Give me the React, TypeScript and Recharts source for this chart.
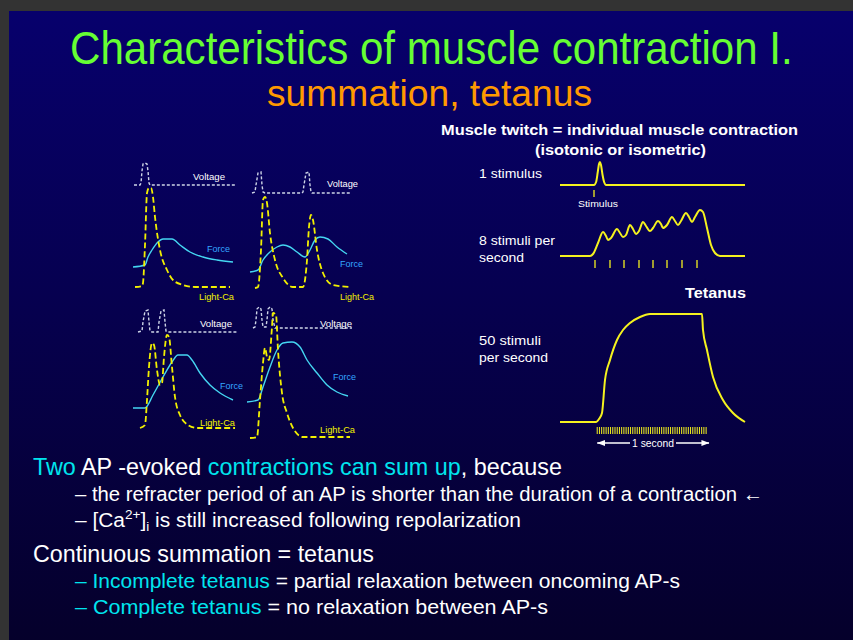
import React from 'react';
import { LineChart, Line, XAxis, YAxis, ReferenceLine, ReferenceDot } from 'recharts';

type Pt = { t: number; v: number };
const P = (arr: number[][]): Pt[] => arr.map(([t, v]) => ({ t, v }));

// ---- Left panels (time in panel units, signal level in panel units, traces offset) ----
const p1Voltage = P([[4,110],[10,110],[11,112],[12,124],[13,131],[15,132],[17,131],[18,124],[19,112],[20,110],[105,110]]);
const p1Force = P([[3,28],[15,30],[18,38],[22,45],[28,53],[33,56],[42,56],[50,50],[60,43],[73,38],[87,35],[103,33]]);
const p1Calcium = P([[5,8],[12,9],[13,12],[15,50],[17,102],[19,107],[21,107],[23,98],[25,78],[30,45],[37,25],[43,15],[53,10],[65,8],[100,8]]);

const p2Voltage = P([[12,102],[15,103],[16,110],[18,122],[21,123],[22,110],[23,103],[25,102],[62,102],[63,103],[64,110],[66,122],[69,123],[70,110],[71,103],[72,102],[110,102]]);
const p2Force = P([[10,23],[18,25],[23,35],[30,43],[37,48],[43,50],[50,48],[57,43],[65,38],[70,45],[75,55],[80,58],[88,56],[97,48],[107,41]]);
const p2Calcium = P([[15,7],[18,8],[21,45],[23,95],[25,98],[27,92],[30,62],[35,35],[43,17],[53,8],[63,8],[67,35],[69,68],[71,80],[73,75],[77,45],[83,22],[93,10],[110,8]]);

const p3Voltage = P([[8,108],[12,109],[13,118],[15,129],[18,130],[19,118],[20,109],[22,108],[28,108],[29,118],[31,129],[34,130],[35,118],[36,109],[38,108],[107,108]]);
const p3Force = P([[3,32],[15,32],[23,45],[33,63],[42,78],[48,85],[57,85],[62,80],[70,67],[80,55],[90,47],[103,40]]);
const p3Calcium = P([[10,12],[15,15],[17,40],[19,73],[22,97],[24,95],[27,70],[30,55],[32,57],[34,83],[37,105],[39,103],[42,73],[45,43],[50,25],[58,15],[67,12],[105,12]]);

const p4Voltage = P([[13,112],[15,113],[16,120],[17,131],[19,133],[21,131],[22,120],[23,113],[26,113],[27,120],[28,131],[30,133],[32,131],[33,120],[35,112],[112,112]]);
const p4Force = P([[7,38],[18,40],[23,53],[30,73],[37,90],[43,97],[52,98],[60,93],[67,80],[77,67],[87,55],[97,48],[108,44]]);
const p4Calcium = P([[10,2],[17,3],[20,40],[23,77],[25,92],[27,83],[29,80],[32,113],[33,127],[36,125],[38,90],[42,47],[47,27],[53,12],[63,3],[110,3]]);

// ---- Right traces (time in ms, force in arbitrary units) ----
const twitchForce = P([[45,0],[351,0],[370,3],[385,13],[396,21],[405,23],[414,20],[428,10],[442,3],[460,0],[1710,0]]);
const twitchStimuli = [351];

const summationForce = P([[45,0],[315,0],[342,2],[387,13],[432,24],[459,20],[477,16],[504,18],[558,27],[585,23],[612,19],[639,21],[675,31],[702,27],[729,22],[756,25],[792,34],[819,30],[855,25],[882,28],[927,35],[954,32],[972,28],[1008,31],[1053,39],[1080,35],[1107,31],[1134,35],[1179,43],[1206,39],[1233,34],[1260,39],[1305,46],[1332,44],[1368,28],[1404,11],[1440,3],[1485,0],[1710,0]]);
const summationStimuli = [360,495,621,756,882,1008,1143,1278];

const tetanusForce = P([[45,0],[369,0],[396,3],[423,9],[450,42],[495,62],[558,82],[612,92],[675,99],[765,105],[855,108],[1323,108],[1332,92],[1368,72],[1422,45],[1512,22],[1602,9],[1710,0]]);
const tetanusStimuli = [380,400,420,440,460,480,500,520,540,560,580,600,620,640,660,680,700,720,740,760,780,800,820,840,860,880,900,920,940,960,980,1000,1020,1040,1060,1080,1100,1120,1140,1160,1180,1200,1220,1240,1260,1280,1300,1320,1340,1360];

const VOLT = '#cdd3e6';
const FORCE = '#45d6f2';
const CA = '#f2f000';
const TRACE = '#f5f21e';
const CYAN = '#00e5ee';
const FONT = "'Liberation Sans Narrow', 'Liberation Sans', Arial, sans-serif";
const SANS = "'Liberation Sans', Arial, sans-serif";

function Panel({ left, top, width, height, tMax, voltage, force, calcium }: any) {
  return (
    <div style={{ position: 'absolute', left, top, width, height }}>
      <LineChart width={width} height={height} margin={{ top: 0, right: 0, bottom: 0, left: 0 }}>
        <XAxis type="number" dataKey="t" domain={[0, tMax]} hide />
        <YAxis type="number" dataKey="v" domain={[0, 140]} hide />
        <Line data={voltage} dataKey="v" type="linear" stroke={VOLT} strokeWidth={1.4} strokeDasharray="3 2" dot={false} isAnimationActive={false} />
        <Line data={force} dataKey="v" type="monotone" stroke={FORCE} strokeWidth={1.4} dot={false} isAnimationActive={false} />
        <Line data={calcium} dataKey="v" type="monotone" stroke={CA} strokeWidth={1.8} strokeDasharray="6 3" dot={false} isAnimationActive={false} />
      </LineChart>
    </div>
  );
}

const arrowLeft = (p: any) => <path d={`M${p.cx},${p.cy} L${p.cx + 8},${p.cy - 3} L${p.cx + 8},${p.cy + 3} Z`} fill="#fff" />;
const arrowRight = (p: any) => <path d={`M${p.cx},${p.cy} L${p.cx - 8},${p.cy - 3} L${p.cx - 8},${p.cy + 3} Z`} fill="#fff" />;

function Trace({ top, height, domain, data, stimuli, tick, arrow }: any) {
  return (
    <div style={{ position: 'absolute', left: 555, top, width: 200, height }}>
      <LineChart width={200} height={height} margin={{ top: 0, right: 0, bottom: 0, left: 0 }}>
        <XAxis type="number" dataKey="t" domain={[0, 1800]} hide />
        <YAxis type="number" dataKey="v" domain={domain} hide />
        {stimuli.map((s: number, i: number) => (
          <ReferenceLine key={i} segment={[{ x: s, y: tick[0] }, { x: s, y: tick[1] }]} stroke={TRACE} strokeWidth={stimuli.length > 20 ? 1 : 1.3} />
        ))}
        {arrow && <ReferenceLine segment={[{ x: 380, y: -21 }, { x: 675, y: -21 }]} stroke="#fff" strokeWidth={1.3} />}
        {arrow && <ReferenceLine segment={[{ x: 1089, y: -21 }, { x: 1386, y: -21 }]} stroke="#fff" strokeWidth={1.3} />}
        {arrow && <ReferenceDot x={378} y={-21} r={3} shape={arrowLeft} />}
        {arrow && <ReferenceDot x={1390} y={-21} r={3} shape={arrowRight} />}
        <Line data={data} dataKey="v" type="monotone" stroke={TRACE} strokeWidth={2} dot={false} isAnimationActive={false} />
      </LineChart>
    </div>
  );
}

function T({ x, y, w, size, fill = '#fff', bold, family = SANS, children }: any) {
  return (
    <text x={x} y={y} fontSize={size} fill={fill} fontFamily={family} fontWeight={bold ? 'bold' : 'normal'}
      textLength={w} lengthAdjust="spacingAndGlyphs">{children}</text>
  );
}

export default function App() {
  return (
    <div style={{ position: 'fixed', left: 0, top: 0, width: 853, height: 640, background: '#333333', overflow: 'hidden' }}>
      <div style={{ position: 'absolute', left: 9, top: 11, width: 844, height: 629, background: 'linear-gradient(180deg, #07006c 0%, #060050 45%, #05002b 100%)' }} />
      <Panel left={130} top={155} width={110} height={140} tMax={110} voltage={p1Voltage} force={p1Force} calcium={p1Calcium} />
      <Panel left={240} top={155} width={120} height={140} tMax={120} voltage={p2Voltage} force={p2Force} calcium={p2Calcium} />
      <Panel left={130} top={300} width={110} height={140} tMax={110} voltage={p3Voltage} force={p3Force} calcium={p3Calcium} />
      <Panel left={240} top={300} width={120} height={140} tMax={120} voltage={p4Voltage} force={p4Force} calcium={p4Calcium} />
      <Trace top={155} height={50} domain={[-20, 30]} data={twitchForce} stimuli={twitchStimuli} tick={[-5, -12]} />
      <Trace top={200} height={75} domain={[-19, 56]} data={summationForce} stimuli={summationStimuli} tick={[-4, -12]} />
      <Trace top={300} height={150} domain={[-28, 122]} data={tetanusForce} stimuli={tetanusStimuli} tick={[-5, -12]} arrow />
      <svg width={853} height={640} style={{ position: 'absolute', left: 0, top: 0, pointerEvents: 'none' }}>
        <g transform="translate(70,64) scale(0.915,1)">
          <text x={0} y={0} fontSize={46} fill="#66ff33" fontFamily={FONT}>Characteristics of muscle contraction I.</text>
        </g>
        <T x={267} y={106} w={325} size={36} fill="#ff9900" family={FONT}>summation, tetanus</T>

        <T x={441} y={135} w={357} size={14.5} bold>Muscle twitch = individual muscle contraction</T>
        <T x={535} y={155} w={171} size={14.5} bold>(isotonic or isometric)</T>
        <T x={479} y={178} w={63} size={13}>1 stimulus</T>
        <T x={578} y={207} w={40} size={9.5}>Stimulus</T>
        <T x={479} y={245} w={76} size={13}>8 stimuli per</T>
        <T x={479} y={262} w={45} size={13}>second</T>
        <T x={685} y={298} w={61} size={14.5} bold>Tetanus</T>
        <T x={479} y={345} w={62} size={13}>50 stimuli</T>
        <T x={479} y={362} w={69} size={13}>per second</T>
        <T x={632} y={447} w={42} size={10}>1 second</T>

        <T x={193} y={180} w={32} size={9}>Voltage</T>
        <T x={207} y={252} w={23} size={9.5} fill="#33a6ff">Force</T>
        <T x={199} y={300} w={35} size={9} fill={CA}>Light-Ca</T>
        <T x={327} y={187} w={31} size={9}>Voltage</T>
        <T x={340} y={267} w={23} size={9.5} fill="#33a6ff">Force</T>
        <T x={340} y={300} w={34} size={9} fill={CA}>Light-Ca</T>
        <T x={200} y={327} w={32} size={9}>Voltage</T>
        <T x={220} y={389} w={23} size={9.5} fill="#33a6ff">Force</T>
        <T x={200} y={426} w={35} size={9} fill={CA}>Light-Ca</T>
        <T x={320} y={327} w={32} size={9}>Voltage</T>
        <T x={333} y={380} w={23} size={9.5} fill="#33a6ff">Force</T>
        <T x={320} y={433} w={35} size={9} fill={CA}>Light-Ca</T>

        <T x={33} y={475} w={529} size={24} family={FONT}>
          <tspan fill={CYAN}>Two</tspan> AP -evoked <tspan fill={CYAN}>contractions can sum up</tspan>, because
        </T>
        <T x={75} y={501} w={688} size={20} family={FONT}>– the refracter period of an AP is shorter than the duration of a contraction ←</T>
        <text x={75} y={527} fontSize={20} fill="#fff" fontFamily={FONT} textLength={446} lengthAdjust="spacingAndGlyphs">
          – [Ca<tspan dy={-8} fontSize={13}>2+</tspan><tspan dy={8}>]</tspan><tspan dy={4} fontSize={13}>i</tspan><tspan dy={-4}> is still increased following repolarization</tspan>
        </text>
        <T x={33} y={562} w={341} size={24} family={FONT}>Continuous summation = tetanus</T>
        <T x={75} y={588} w={605} size={20} family={FONT}>
          <tspan fill={CYAN}>– Incomplete tetanus</tspan> = partial relaxation between oncoming AP-s
        </T>
        <T x={75} y={614} w={473} size={20} family={FONT}>
          <tspan fill={CYAN}>– Complete tetanus</tspan> = no relaxation between AP-s
        </T>
      </svg>
    </div>
  );
}
